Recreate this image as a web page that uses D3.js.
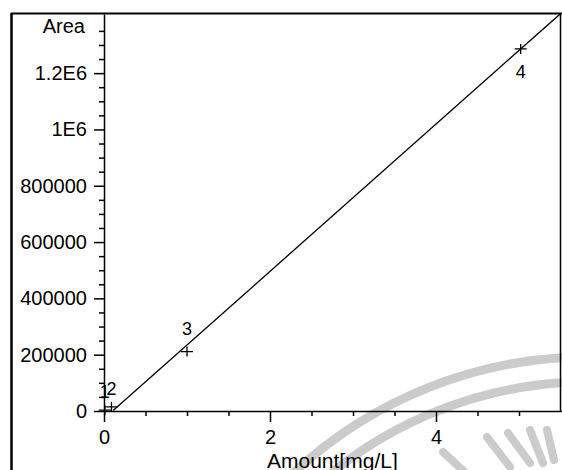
<!DOCTYPE html>
<html>
<head>
<meta charset="utf-8">
<script src="https://cdn.jsdelivr.net/npm/d3@7"></script>
<style>
body { margin: 0; background: #fff; }
text { font-family: "Liberation Sans", Arial, sans-serif; fill: #000; }
</style>
</head>
<body>
<div id="chart"></div>
<script>
// calibration points
var amounts = [0.01, 0.09, 1.0, 5.02];
var areas = [3000, 15000, 211000, 1286000];
var pointLabels = ["1", "2", "3", "4"];

// fitted line  area = slope * amount + intercept
var fitSlope = 261500;
var fitIntercept = -27000;
var fitRange = [0.11, 5.5];

var yMajorTicks = [0, 200000, 400000, 600000, 800000, 1000000, 1200000];
var yTickLabels = ["0", "200000", "400000", "600000", "800000", "1E6", "1.2E6"];
var yMinorTicks = [50000, 100000, 150000, 250000, 300000, 350000, 450000, 500000, 550000,
  650000, 700000, 750000, 850000, 900000, 950000, 1050000, 1100000, 1150000,
  1250000, 1300000, 1350000];
var xMajorTicks = [0, 2, 4];
var xTickLabels = ["0", "2", "4"];
var xMinorTicks = [0.5, 1, 1.5, 2.5, 3, 3.5, 4.5, 5];

var width = 562, height = 470;

var svg = d3.select("#chart")
    .append("svg")
    .attr("width", width)
    .attr("height", height);

var x = d3.scaleLinear().domain([0, 5.518]).range([104, 562]);
var y = d3.scaleLinear().domain([0, 1410000]).range([411, 14]);

// scanned watermark in the background
var wm = svg.append("g").attr("class", "watermark")
    .attr("fill", "none")
    .attr("stroke", "#cbcbcb");
wm.append("circle").attr("cx", 588).attr("cy", 789).attr("r", 432).attr("stroke-width", 9);
wm.append("circle").attr("cx", 588).attr("cy", 789).attr("r", 407).attr("stroke-width", 9);
var spokes = [[443, 452, 470, 477], [487, 437, 510, 467], [508, 433, 530, 463], [530, 430, 543, 463], [547, 430, 554, 460]];
wm.selectAll("line")
    .data(spokes)
    .enter()
    .append("line")
    .attr("x1", d => d[0]).attr("y1", d => d[1])
    .attr("x2", d => d[2]).attr("y2", d => d[3])
    .attr("stroke-width", 8)
    .attr("stroke-linecap", "round");

// frame
svg.append("line").attr("x1", 11).attr("x2", 562).attr("y1", 13.5).attr("y2", 13.5)
    .attr("stroke", "#000").attr("stroke-width", 2.2);
svg.append("line").attr("x1", 11.5).attr("x2", 11.5).attr("y1", 13).attr("y2", 470)
    .attr("stroke", "#000").attr("stroke-width", 2.5);
svg.append("line").attr("x1", 560.5).attr("x2", 560.5).attr("y1", 13).attr("y2", 412)
    .attr("stroke", "#000").attr("stroke-width", 1.5);

// y axis
var yAxis = svg.append("g")
    .attr("transform", "translate(104,0)")
    .call(d3.axisLeft(y)
        .tickValues(yMajorTicks)
        .tickFormat((d, i) => yTickLabels[i])
        .tickSize(10)
        .tickPadding(7)
        .tickSizeOuter(0));
svg.append("g")
    .attr("transform", "translate(104,0)")
    .call(d3.axisLeft(y).tickValues(yMinorTicks).tickFormat("").tickSize(5).tickSizeOuter(0))
    .select(".domain").remove();

// x axis
var xAxis = svg.append("g")
    .attr("transform", "translate(0,411)")
    .call(d3.axisBottom(x)
        .tickValues(xMajorTicks)
        .tickFormat((d, i) => xTickLabels[i])
        .tickSize(11)
        .tickPadding(8)
        .tickSizeOuter(0));
svg.append("g")
    .attr("transform", "translate(0,411)")
    .call(d3.axisBottom(x).tickValues(xMinorTicks).tickFormat("").tickSize(5).tickSizeOuter(0))
    .select(".domain").remove();

svg.selectAll(".domain, .tick line").attr("stroke", "#000").attr("stroke-width", 1.5);
svg.selectAll(".tick text")
    .style("font-family", "'Liberation Sans', Arial, sans-serif")
    .style("font-size", "20px")
    .attr("fill", "#000");

// axis titles
svg.append("text")
    .attr("x", 85)
    .attr("y", 33)
    .attr("text-anchor", "end")
    .style("font-size", "20px")
    .text("Area");
svg.append("text")
    .attr("x", 267)
    .attr("y", 468)
    .style("font-size", "21px")
    .text("Amount[mg/L]");

// fitted line
var plot = svg.append("g");
plot.append("clipPath").attr("id", "clip")
    .append("rect").attr("x", 104).attr("y", 14).attr("width", 458).attr("height", 397);
plot.append("path")
    .datum(fitRange)
    .attr("clip-path", "url(#clip)")
    .attr("fill", "none")
    .attr("stroke", "#000")
    .attr("stroke-width", 1.3)
    .attr("d", d3.line()
        .x(d => x(d))
        .y(d => y(fitSlope * d + fitIntercept)));

// markers
var pts = amounts.map((a, i) => ({ x: a, y: areas[i], label: pointLabels[i] }));
var marks = plot.selectAll(".pt")
    .data(pts)
    .enter()
    .append("g")
    .attr("class", "pt")
    .attr("transform", d => "translate(" + x(d.x) + "," + y(d.y) + ")");
marks.append("path")
    .attr("d", "M-6,0H6M0,-5V5")
    .attr("stroke", "#000")
    .attr("stroke-width", 1.3)
    .attr("fill", "none");
marks.append("text")
    .attr("text-anchor", "middle")
    .attr("y", (d, i) => i === 3 ? 29 : (i === 2 ? -17 : -12))
    .style("font-size", "18px")
    .text(d => d.label);
</script>
</body>
</html>
